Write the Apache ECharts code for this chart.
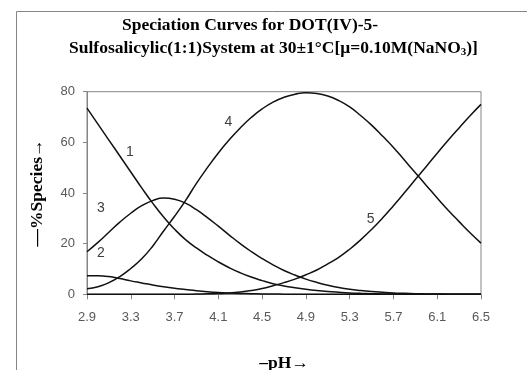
<!DOCTYPE html>
<html>
<head>
<meta charset="utf-8">
<script src="https://cdn.jsdelivr.net/npm/echarts@6/dist/echarts.min.js"></script>
<style>html,body{margin:0;padding:0;background:#fff}#c{width:527px;height:370px}</style>
</head>
<body>
<div id="c"></div>
<script>
const pH = ["2.9","3.0","3.1","3.2","3.3","3.4","3.5","3.6","3.7","3.8","3.9","4.0","4.1","4.2","4.3","4.4","4.5","4.6","4.7","4.8","4.9","5.0","5.1","5.2","5.3","5.4","5.5","5.6","5.7","5.8","5.9","6.0","6.1","6.2","6.3","6.4","6.5"];
const species1 = [73.5,67.2,60.9,54.6,48.3,42.0,36.0,30.5,25.7,21.6,18.3,15.4,12.8,10.5,8.5,6.8,5.4,4.2,3.3,2.6,2.0,1.5,1.1,0.8,0.55,0.38,0.25,0.15,0.1,0.05,0.03,0.02,0.01,0,0,0,0];
const species2 = [7.3,7.3,7.0,6.2,5.3,4.5,3.7,3.0,2.4,1.9,1.4,1.0,0.7,0.5,0.35,0.25,0.15,0.1,0.05,0.03,0.02,0.01,0,0,0,0,0,0,0,0,0,0,0,0,0,0,0];
const species3 = [16.8,20.5,24.5,28.5,32.0,35.0,37.0,38.0,37.5,36.0,33.4,30.3,26.9,23.4,20.0,16.9,14.1,11.6,9.4,7.6,6.0,4.7,3.6,2.7,2.0,1.5,1.1,0.8,0.55,0.4,0.25,0.15,0.1,0.05,0.03,0.02,0.01];
const species4 = [2.2,3.0,4.6,7.0,10.2,14.0,19.0,25.0,30.8,37.0,43.8,50.0,55.8,61.0,65.7,69.8,73.2,75.9,77.8,79.0,79.6,79.3,78.3,76.5,74.0,70.6,66.8,62.5,58.0,53.0,48.0,43.0,38.0,33.2,28.7,24.3,20.2];
const species5 = [0,0,0,0,0,0,0,0,0,0,0.1,0.2,0.3,0.5,0.9,1.5,2.3,3.4,4.6,6.0,7.7,9.6,12.0,14.6,17.8,21.5,25.6,30.1,35.0,40.1,45.3,50.5,55.7,60.8,65.7,70.5,75.0];
const curveNames = ["1","2","3","4","5"];
const yTicks = [0,20,40,60,80];

const chart = echarts.init(document.getElementById('c'), null, {renderer:'canvas'});
const labelFont = {fontFamily:'Liberation Sans', fontSize:13, color:'#595959'};
function tag(name, coord, dx){
  return {symbol:'circle', symbolSize:2, silent:true, itemStyle:{color:'rgba(0,0,0,0)'},
    label:{show:true, position:'inside', offset:[dx,0], formatter:name, fontFamily:'Liberation Sans', fontSize:14, color:'#404040'},
    data:[{coord:coord}]};
}
const all = [species1, species2, species3, species4, species5];
const tagPos = [[4,56],[1,16.3],[1,34],[13,68],[26,29.5]];
const tagDx = [-1,3,3,-1,-1];
const series = all.map((d,i)=>({
  name: curveNames[i], type:'line', data:d, smooth:true, symbol:'none',
  lineStyle:{color:'#111', width:1.5}, z:3,
  markPoint: tag(curveNames[i], tagPos[i], tagDx[i])
}));

chart.setOption({
  animation:false,
  backgroundColor:'#fff',
  graphic:[{type:'rect', shape:{x:16.5, y:11.5, width:700, height:500}, style:{fill:null, stroke:'#868686', lineWidth:1}, z:-1}],
  title:[
    {text:'Speciation Curves for DOT(IV)-5-', left:117, top:11,
     textStyle:{fontFamily:'Liberation Serif', fontWeight:'bold', fontSize:17.5, color:'#000'}},
    {text:'Sulfosalicylic(1:1)System at 30±1°C[μ=0.10M(NaNO{s|3})]', left:64, top:33,
     textStyle:{fontFamily:'Liberation Serif', fontWeight:'bold', fontSize:17.5, color:'#000', lineHeight:20,
       rich:{s:{fontFamily:'Liberation Serif', fontWeight:'bold', fontSize:11, verticalAlign:'bottom', lineHeight:9}}}}
  ],
  grid:{left:87, right:46, top:91.7, bottom:75.7, show:true, borderColor:'#868686', borderWidth:1,
    containLabel:false, outerBoundsMode:'none'},
  xAxis:{type:'category', data:pH, boundaryGap:false,
    name:'–pH→', nameLocation:'middle', nameGap:60,
    nameTextStyle:{fontFamily:'Liberation Serif', fontWeight:'bold', fontSize:17.5, color:'#000'},
    axisLine:{lineStyle:{color:'#868686', width:1}},
    axisTick:{show:true, interval:3, length:5, lineStyle:{color:'#868686'}},
    axisLabel:Object.assign({interval:3, margin:17}, labelFont),
    splitLine:{show:false}},
  yAxis:{type:'value', min:yTicks[0], max:yTicks[yTicks.length-1], interval:20,
    name:'—%Species→', nameLocation:'middle', nameGap:41, nameRotate:90,
    nameTextStyle:{fontFamily:'Liberation Serif', fontWeight:'bold', fontSize:17.5, color:'#000'},
    axisLine:{show:true, lineStyle:{color:'#868686', width:1}},
    axisTick:{show:true, length:4, lineStyle:{color:'#868686'}},
    axisLabel:Object.assign({margin:12}, labelFont),
    splitLine:{show:false}},
  series: series
});
</script>
</body>
</html>
